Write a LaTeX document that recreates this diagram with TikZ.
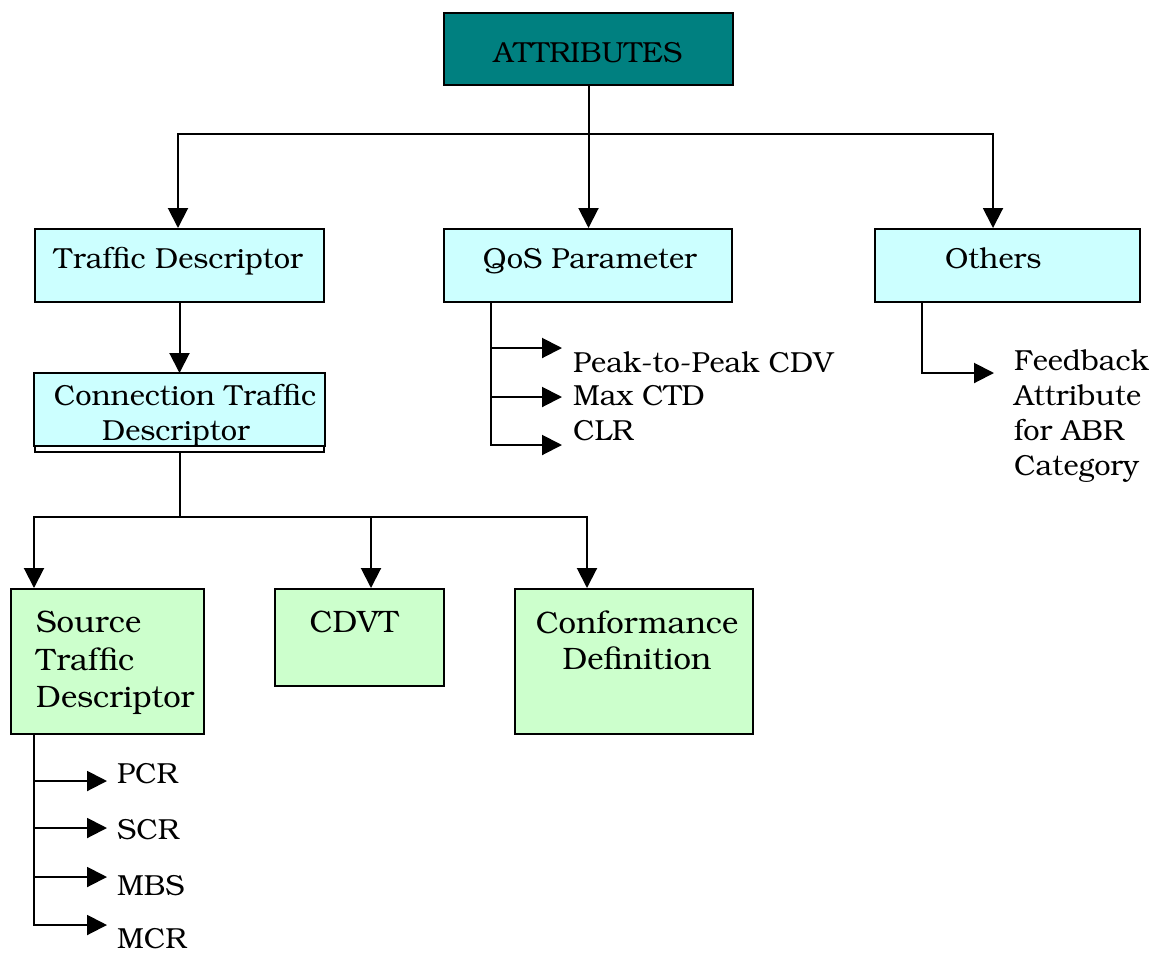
\documentclass[tikz,border=0pt]{standalone}
\usepackage[T1]{fontenc}
\usepackage{bookman}
\usetikzlibrary{arrows.meta}
\definecolor{headteal}{HTML}{008080}
\definecolor{lightcyan}{HTML}{CCFFFF}
\definecolor{lightgreen}{HTML}{CCFFCC}
\begin{document}
\begin{tikzpicture}[x=1pt,y=-1pt,
  box/.style={draw=black, line width=2pt, inner sep=0pt, anchor=north west},
  bluebox/.style={box, fill=lightcyan},
  greenbox/.style={box, fill=lightgreen},
  txt/.style={inner sep=0pt, font=\fontsize{29}{35}\selectfont},
  bigtxt/.style={inner sep=0pt, font=\fontsize{31}{37.5}\selectfont},
  wire/.style={line width=2pt},
  arr/.style={wire, -{Triangle[length=20pt,width=20pt]}}]
\useasboundingbox (0,0) rectangle (1158,954);

% boxes
\node[box, fill=headteal, minimum width=289pt, minimum height=72pt] (attr) at (443,12) {};
\node[bluebox, minimum width=289pt, minimum height=73pt] (traffic) at (34,228) {};
\node[bluebox, minimum width=288pt, minimum height=73pt] (qos) at (443,228) {};
\node[bluebox, minimum width=265pt, minimum height=73pt] (others) at (874,228) {};
\node[box, fill=white, minimum width=289pt, minimum height=78pt] (conn) at (34,373) {};
\fill[lightcyan, draw=black, line width=2pt] (conn.north west) rectangle ([yshift=7pt]conn.south east);
\node[greenbox, minimum width=193pt, minimum height=145pt] (src) at (10,588) {};
\node[greenbox, minimum width=169pt, minimum height=97pt] (cdvt) at (274,588) {};
\node[greenbox, minimum width=238pt, minimum height=145pt] (conf) at (514,588) {};

% box texts
\node[txt, anchor=base] (attr-t) at (588,62) {ATTRIBUTES};
\node[txt, anchor=base] (traffic-t) at (178.5,268) {Traffic Descriptor};
\node[txt, anchor=base] (qos-t) at (590,268) {QoS Parameter};
\node[txt, anchor=base west] (others-t) at (945,268) {Others};
\node[txt, anchor=base] (conn-t1) at (185,405) {Connection Traffic};
\node[txt, anchor=base] (conn-t2) at (176,440) {Descriptor};
\node[bigtxt, anchor=base west] (src-t1) at (36,632) {Source};
\node[bigtxt, anchor=base west] (src-t2) at (36,670) {Traffic};
\node[bigtxt, anchor=base west] (src-t3) at (36,707) {Descriptor};
\node[bigtxt, anchor=base] (cdvt-t) at (354,632) {CDVT};
\node[bigtxt, anchor=base] (conf-t1) at (637,633) {Conformance};
\node[bigtxt, anchor=base] (conf-t2) at (637,669) {Definition};

% leaf labels
\node[txt, anchor=base west] (peak) at (573,372) {Peak-to-Peak CDV};
\node[txt, anchor=base west] (maxctd) at (573,405) {Max CTD};
\node[txt, anchor=base west] (clr) at (573,440) {CLR};
\node[txt, anchor=base west] (fb1) at (1014,370) {Feedback};
\node[txt, anchor=base west] (fb2) at (1014,405) {Attribute};
\node[txt, anchor=base west] (fb3) at (1014,440) {for ABR};
\node[txt, anchor=base west] (fb4) at (1014,475) {Category};
\node[txt, anchor=base west] (pcr) at (117,783) {PCR};
\node[txt, anchor=base west] (scr) at (117,839) {SCR};
\node[txt, anchor=base west] (mbs) at (117,895) {MBS};
\node[txt, anchor=base west] (mcr) at (117,948) {MCR};

% top level tree
\coordinate (j1) at (attr.south |- 0,134);
\draw[wire] (attr.south) -- (j1);
\draw[arr] (j1) -| ([xshift=144pt]traffic.north west);
\draw[arr] (j1) -- (j1 |- qos.north);
\draw[arr] (j1) -| ([xshift=119pt]others.north west);
\draw[arr] (traffic.south) -- (conn.north);

% connection traffic descriptor subtree
\coordinate (j2) at (conn.south |- 0,517);
\draw[wire] (conn.south) -- (j2);
\draw[arr] (j2) -| ([xshift=24pt]src.north west);
\draw[arr] (j2) -| ([xshift=97pt]cdvt.north west);
\draw[arr] (j2) -| ([xshift=73pt]conf.north west);

% QoS parameter list
\coordinate (qstem) at ([xshift=48pt]qos.south west);
\coordinate (q1) at (562,348);
\coordinate (q2) at (562,397);
\coordinate (q3) at (562,445);
\draw[arr] (qstem) |- (q3);
\draw[arr] (qstem |- q1) -- (q1);
\draw[arr] (qstem |- q2) -- (q2);

% others
\coordinate (ostem) at ([xshift=48pt]others.south west);
\coordinate (o1) at (994,373);
\draw[arr] (ostem) |- (o1);

% source traffic descriptor list
\coordinate (sstem) at ([xshift=24pt]src.south west);
\coordinate (s1) at (107,781);
\coordinate (s2) at (107,828);
\coordinate (s3) at (107,877);
\coordinate (s4) at (107,925);
\draw[arr] (sstem) |- (s4);
\draw[arr] (sstem |- s1) -- (s1);
\draw[arr] (sstem |- s2) -- (s2);
\draw[arr] (sstem |- s3) -- (s3);
\end{tikzpicture}
\end{document}
